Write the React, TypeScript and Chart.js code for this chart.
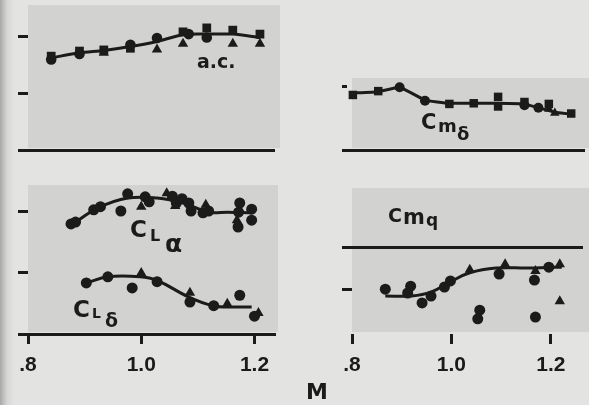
import React, { useEffect, useRef } from "react";
import { Chart, registerables } from "chart.js";
Chart.register(...registerables);

const INK = "#1b1b1b";
const FONT = "'Liberation Sans', Arial, sans-serif";
const LABEL_FONT = "'DejaVu Sans', 'Liberation Sans', sans-serif";
const PAGE_BG = "#e3e3e1";
const PANEL_BG = "#d2d2d0";

// Mach-number ticks (bottom panels)
const xTickValues = [0.8, 1.0, 1.2];
const xTickLabels = [".8", "1.0", "1.2"];

// ---- a.c. (top left) ----
const acCurveM = [0.841, 0.891, 0.934, 0.981, 1.028, 1.074, 1.116, 1.162, 1.21];
const acCurveV = [1.63, 1.72, 1.76, 1.83, 1.92, 2.04, 2.05, 2.05, 1.99];
const acSquareM = [0.841, 0.891, 0.934, 0.981, 1.074, 1.116, 1.162, 1.21];
const acSquareV = [1.66, 1.75, 1.77, 1.8, 2.09, 2.16, 2.12, 2.05];
const acCircleM = [0.841, 0.891, 0.981, 1.028, 1.084, 1.116];
const acCircleV = [1.6, 1.7, 1.86, 1.98, 2.05, 1.99];
const acTriM = [0.934, 1.028, 1.074, 1.162, 1.21];
const acTriV = [1.72, 1.78, 1.88, 1.88, 1.88];

// ---- Cm delta (top right) ----
const cmdCurveM = [0.802, 0.853, 0.896, 0.947, 0.996, 1.045, 1.094, 1.147, 1.175, 1.208, 1.241];
const cmdCurveV = [0.89, 0.91, 0.98, 0.78, 0.73, 0.73, 0.73, 0.72, 0.66, 0.59, 0.56];
const cmdSquareM = [0.802, 0.853, 0.996, 1.045, 1.094, 1.094, 1.147, 1.196, 1.241];
const cmdSquareV = [0.86, 0.92, 0.72, 0.73, 0.83, 0.68, 0.75, 0.72, 0.57];
const cmdCircleM = [0.896, 0.947, 1.147, 1.175];
const cmdCircleV = [0.98, 0.77, 0.7, 0.66];
const cmdTriM = [1.196, 1.208];
const cmdTriV = [0.64, 0.58];

// ---- CL alpha (bottom left, upper) ----
const claCurveM = [0.876, 0.924, 0.976, 1.028, 1.074, 1.119, 1.153, 1.195];
const claCurveV = [1.77, 2.05, 2.21, 2.21, 2.13, 1.98, 1.98, 1.97];
const claCircleM = [0.876, 0.884, 0.916, 0.928, 0.964, 0.976, 1.007, 1.014, 1.055, 1.062, 1.072, 1.084, 1.088, 1.109, 1.119, 1.174, 1.172, 1.171, 1.195, 1.195];
const claCircleV = [1.79, 1.82, 2.02, 2.07, 2.0, 2.28, 2.23, 2.15, 2.24, 2.13, 2.2, 2.13, 2.0, 1.97, 2.0, 2.13, 1.98, 1.74, 2.03, 1.85];
const claTriM = [1.0, 1.045, 1.06, 1.114, 1.169];
const claTriV = [2.07, 2.29, 2.08, 2.1, 1.85];

// ---- CL delta (bottom left, lower) ----
const cldCurveM = [0.903, 0.941, 0.998, 1.028, 1.084, 1.126, 1.153, 1.195];
const cldCurveV = [0.83, 0.93, 0.93, 0.87, 0.6, 0.46, 0.44, 0.44];
const cldCircleM = [0.903, 0.941, 0.984, 1.028, 1.086, 1.128, 1.174, 1.2];
const cldCircleV = [0.83, 0.93, 0.75, 0.85, 0.52, 0.46, 0.63, 0.29];
const cldTriM = [1.0, 1.086, 1.152, 1.207];
const cldTriV = [0.99, 0.67, 0.49, 0.34];

// ---- Cm q (bottom right) ----
const cmqCurveM = [0.867, 0.92, 0.959, 0.998, 1.037, 1.09, 1.155, 1.202, 1.222];
const cmqCurveV = [-1.14, -1.14, -1.05, -0.81, -0.6, -0.49, -0.49, -0.47, -0.47];
const cmqCircleM = [0.867, 0.918, 0.912, 0.941, 0.959, 0.986, 0.998, 1.057, 1.053, 1.096, 1.167, 1.169, 1.196];
const cmqCircleV = [-0.98, -0.91, -1.07, -1.3, -1.14, -0.93, -0.79, -1.47, -1.67, -0.63, -0.77, -1.63, -0.47];
const cmqTriM = [1.037, 1.108, 1.169, 1.218, 1.218];
const cmqTriV = [-0.53, -0.4, -0.56, -0.4, -1.26];

function pts(m: number[], v: number[]) {
  return m.map((x, i) => ({ x, y: v[i] }));
}
function curve(m: number[], v: number[], tension = 0.4) {
  return {
    data: pts(m, v),
    showLine: true,
    borderColor: INK,
    borderWidth: 3,
    pointRadius: 0,
    tension,
    clip: false,
    order: 2,
  };
}
function marks(m: number[], v: number[], style: string, radius: number) {
  return {
    data: pts(m, v),
    showLine: false,
    pointStyle: style,
    pointRadius: radius,
    backgroundColor: INK,
    borderColor: INK,
    borderWidth: 0,
    clip: false,
    order: 1,
  };
}

interface PanelCfg {
  left: number; top: number; width: number; height: number;
  yAxisWidth: number; padTop: number; xAxisHeight: number;
  xMin: number; xMax: number; yMin: number; yMax: number;
  yTicks: number[]; yLineAt?: number; tickLen: number;
  xBorder: boolean; xTicks: boolean;
  datasets: any[];
}

function buildOptions(c: PanelCfg): any {
  return {
    animation: false,
    responsive: false,
    maintainAspectRatio: false,
    events: [],
    layout: { padding: { top: c.padTop, left: 0, right: 0, bottom: 0 } },
    plugins: { legend: { display: false }, tooltip: { enabled: false } },
    scales: {
      x: {
        type: "linear",
        position: "bottom",
        min: c.xMin,
        max: c.xMax,
        afterFit: (s: any) => { s.height = c.xAxisHeight; },
        afterBuildTicks: (s: any) => { s.ticks = xTickValues.map((v) => ({ value: v })); },
        ticks: {
          display: c.xTicks,
          autoSkip: false,
          maxRotation: 0,
          padding: 9,
          color: INK,
          font: { family: FONT, size: 21, weight: "bold" },
          callback: (v: number) => {
            const i = xTickValues.findIndex((t) => Math.abs(t - v) < 1e-6);
            return i >= 0 ? xTickLabels[i] : "";
          },
        },
        grid: { display: c.xTicks, drawOnChartArea: false, drawTicks: true, tickLength: 10, lineWidth: 3, color: INK },
        border: { display: c.xBorder, width: 3, color: INK },
      },
      y: {
        type: "linear",
        position: "left",
        min: c.yMin,
        max: c.yMax,
        afterFit: (s: any) => { s.width = c.yAxisWidth; },
        afterBuildTicks: (s: any) => { s.ticks = c.yTicks.map((v) => ({ value: v })); },
        ticks: { display: false },
        grid: {
          drawOnChartArea: c.yLineAt !== undefined,
          drawTicks: true,
          tickLength: c.tickLen,
          lineWidth: 3,
          tickWidth: 3,
          tickColor: INK,
          color: (ctx: any) =>
            c.yLineAt !== undefined && ctx.tick && Math.abs(ctx.tick.value - c.yLineAt) < 1e-9 ? INK : "rgba(0,0,0,0)",
        },
        border: { display: false },
      },
    },
  };
}

function PanelChart({ cfg }: { cfg: PanelCfg }) {
  const ref = useRef<HTMLCanvasElement>(null);
  useEffect(() => {
    const chart = new Chart(ref.current as HTMLCanvasElement, {
      type: "scatter",
      data: { datasets: cfg.datasets },
      options: buildOptions(cfg),
    } as any);
    return () => chart.destroy();
  }, []);
  return (
    <canvas
      ref={ref}
      width={cfg.width}
      height={cfg.height}
      style={{ position: "absolute", left: cfg.left, top: cfg.top, width: cfg.width, height: cfg.height }}
    />
  );
}

function Txt({ x, base, size, children }: { x: number; base: number; size: number; children: any }) {
  return (
    <div
      style={{
        position: "absolute",
        left: x,
        top: base - 0.846 * size,
        fontSize: size,
        lineHeight: 1,
        fontFamily: LABEL_FONT,
        fontWeight: "bold",
        color: INK,
        whiteSpace: "nowrap",
      }}
    >
      {children}
    </div>
  );
}

function Box({ l, t, w, h }: { l: number; t: number; w: number; h: number }) {
  return <div style={{ position: "absolute", left: l, top: t, width: w, height: h, background: PANEL_BG }} />;
}

const panelTL: PanelCfg = {
  left: 0, top: 0, width: 280, height: 160,
  yAxisWidth: 28, padTop: 5, xAxisHeight: 10,
  xMin: 0.8, xMax: 0.8 + 252 / 580, yMin: 0, yMax: 145 / 57,
  yTicks: [0, 1, 2], tickLen: 10, xBorder: true, xTicks: false,
  datasets: [
    marks(acSquareM, acSquareV, "rect", 6.2),
    marks(acCircleM, acCircleV, "circle", 5.3),
    marks(acTriM, acTriV, "triangle", 6),
    curve(acCurveM, acCurveV, 0.25),
  ],
};

const panelTR: PanelCfg = {
  left: 300, top: 70, width: 289, height: 90,
  yAxisWidth: 47, padTop: 8, xAxisHeight: 10,
  xMin: 0.8 - 5 / 510, xMax: 0.8 + 237 / 510, yMin: 0, yMax: 72 / 64,
  yTicks: [0, 1], tickLen: 5, xBorder: true, xTicks: false,
  datasets: [
    marks(cmdSquareM, cmdSquareV, "rect", 6),
    marks(cmdCircleM, cmdCircleV, "circle", 5),
    marks(cmdTriM, cmdTriV, "triangle", 5.5),
    curve(cmdCurveM, cmdCurveV, 0.1),
  ],
};

const panelBL: PanelCfg = {
  left: 0, top: 175, width: 280, height: 230,
  yAxisWidth: 28, padTop: 10, xAxisHeight: 71,
  xMin: 0.8, xMax: 0.8 + 252 / 580, yMin: 0, yMax: 149 / 61.5,
  yTicks: [0, 1, 2], tickLen: 10, xBorder: true, xTicks: true,
  datasets: [
    marks(claCircleM, claCircleV, "circle", 5.5),
    marks(claTriM, claTriV, "triangle", 6),
    marks(cldCircleM, cldCircleV, "circle", 5.5),
    marks(cldTriM, cldTriV, "triangle", 6),
    curve(claCurveM, claCurveV, 0.4),
    curve(cldCurveM, cldCurveV, 0.4),
  ],
};

const panelBR: PanelCfg = {
  left: 305, top: 178, width: 284, height: 227,
  yAxisWidth: 47, padTop: 10, xAxisHeight: 71,
  xMin: 0.8, xMax: 0.8 + 237 / 510, yMin: -87 / 43, yMax: 59 / 43,
  yTicks: [-1, 0], yLineAt: 0, tickLen: 10, xBorder: false, xTicks: true,
  datasets: [
    marks(cmqCircleM, cmqCircleV, "circle", 5.5),
    marks(cmqTriM, cmqTriV, "triangle", 6),
    curve(cmqCurveM, cmqCurveV, 0.4),
  ],
};

export default function App() {
  return (
    <div
      style={{
        position: "absolute",
        left: 0,
        top: 0,
        width: 589,
        height: 405,
        overflow: "hidden",
        background: `linear-gradient(to right, #a8a8a6 0px, #d6d6d4 7px, ${PAGE_BG} 14px)`,
      }}
    >
      <Box l={28} t={5} w={252} h={143} />
      <Box l={352} t={78} w={237} h={70} />
      <Box l={28} t={185} w={250} h={147} />
      <Box l={352} t={188} w={237} h={144} />

      <PanelChart cfg={panelTL} />
      <PanelChart cfg={panelTR} />
      <PanelChart cfg={panelBL} />
      <PanelChart cfg={panelBR} />

      <Txt x={197} base={68} size={19}>a.c.</Txt>

      <Txt x={421} base={130} size={21}>C</Txt>
      <Txt x={438} base={132} size={18}>m</Txt>
      <Txt x={457} base={140} size={18}>δ</Txt>

      <Txt x={130} base={237} size={23}>C</Txt>
      <Txt x={150} base={242} size={16}>L</Txt>
      <Txt x={165} base={252} size={25}>α</Txt>

      <Txt x={73} base={317} size={23}>C</Txt>
      <Txt x={92} base={318} size={14}>L</Txt>
      <Txt x={105} base={327} size={19}>δ</Txt>

      <Txt x={388} base={222} size={19}>C</Txt>
      <Txt x={403} base={225} size={21}>m</Txt>
      <Txt x={426} base={226} size={17}>q</Txt>

      <Txt x={306} base={400} size={22}>M</Txt>
    </div>
  );
}
